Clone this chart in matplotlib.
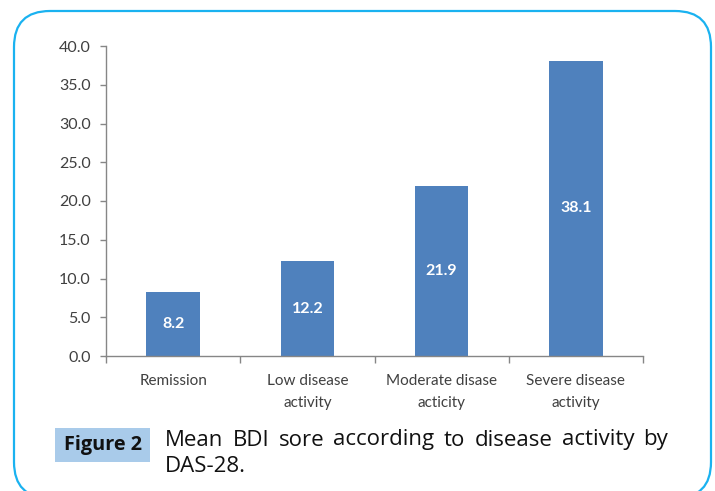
import matplotlib
matplotlib.use('Agg')
import matplotlib.pyplot as plt
from matplotlib.patches import FancyBboxPatch, Rectangle

# data
categories = ['Remission', 'Low disease\nactivity', 'Moderate disase\nacticity', 'Severe disease\nactivity']
mean_bdi = [8.2, 12.2, 21.9, 38.1]
value_labels = ['8.2', '12.2', '21.9', '38.1']
y_ticks = [0, 5, 10, 15, 20, 25, 30, 35, 40]

fig_label = 'Figure 2'
caption_line1 = 'Mean BDI sore according to disease activity by'
caption_line2 = 'DAS-28.'

W, H = 715, 491
barcol = '#4F81BD'
axcol = '#868686'
txtcol = '#404040'
font = 'Lato'

fig = plt.figure(figsize=(W / 100, H / 100), dpi=100)
ax = fig.add_axes([106 / W, 1 - 356 / H, (643 - 106) / W, (356 - 46) / H])

bars = ax.bar(range(len(mean_bdi)), mean_bdi, width=0.4, color=barcol, zorder=2)
ax.bar_label(bars, labels=value_labels, label_type='center', color='white',
             fontsize=11.5, fontweight='bold', family=font)

ax.set_xlim(-0.5, len(mean_bdi) - 0.5)
ax.set_ylim(0, 40)
ax.set_yticks(y_ticks)
ax.set_yticklabels(['%.1f' % v for v in y_ticks], family=font, fontsize=11.5, color=txtcol)
ax.set_xticks(range(len(categories)))
ax.set_xticklabels(categories, family=font, fontsize=11, color=txtcol, va='top')
for t in ax.get_xticklabels():
    t.set_linespacing(1.7)
ax.set_xticks([i - 0.5 for i in range(len(categories) + 1)], minor=True)
ax.tick_params(axis='x', which='major', length=0, pad=13)
ax.tick_params(axis='x', which='minor', length=5, color=axcol, width=1)
ax.tick_params(axis='y', length=4, color=axcol, width=1, pad=7)

for s in ['top', 'right']:
    ax.spines[s].set_visible(False)
for s in ['left', 'bottom']:
    ax.spines[s].set_color(axcol)
    ax.spines[s].set_linewidth(1)

# rounded border around everything (pixel coords)
border = FancyBboxPatch((14, H - 498), 711 - 14, 498 - 11,
                        boxstyle='round,pad=0,rounding_size=36',
                        transform=None, fill=False, edgecolor='#1AB2F0', linewidth=1.6)
fig.patches.append(border)

# figure label box
fig.patches.append(Rectangle((55, H - 462), 95, 34, transform=None,
                             facecolor='#A9CBEA', edgecolor='none'))
fig.text(102.5 / W, 1 - 445 / H, fig_label, ha='center', va='center',
         fontsize=14.3, fontweight='bold', family='Open Sans', color='#111111')

# justified caption, first line
fig.canvas.draw()
renderer = fig.canvas.get_renderer()
words = caption_line1.split()
x0, x1 = 165, 668
texts = [fig.text(0, 0, w, fontsize=16, family='Open Sans', color='#111111') for w in words]
widths = [t.get_window_extent(renderer).width for t in texts]
gap = (x1 - x0 - sum(widths)) / (len(words) - 1)
x = x0
for t, w in zip(texts, widths):
    t.set_position((x / W, 1 - 440 / H))
    t.set_va('center')
    x += w + gap
fig.text(x0 / W, 1 - 467 / H, caption_line2, fontsize=16, family='Open Sans',
         color='#111111', va='center')

fig.savefig('out.png', dpi=100)
